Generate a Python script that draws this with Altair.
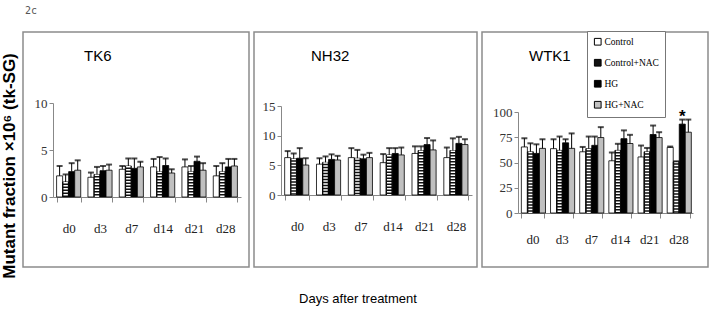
import altair as alt
import pandas as pd

days = ["d0", "d3", "d7", "d14", "d21", "d28"]
series = ["Control", "Control+NAC", "HG", "HG+NAC"]

# TK6 (mean, upper end of error bar)
tk6_control = [2.25, 2.1, 2.95, 3.2, 3.2, 2.25]
tk6_control_nac = [1.6, 2.4, 3.3, 2.7, 2.7, 2.7]
tk6_hg = [2.7, 2.8, 3.05, 3.35, 3.8, 3.2]
tk6_hg_nac = [2.85, 2.85, 3.2, 2.55, 2.85, 3.3]
tk6_control_up = [3.3, 2.6, 3.3, 4.05, 4.0, 3.3]
tk6_control_nac_up = [2.4, 3.2, 4.1, 4.25, 3.3, 3.6]
tk6_hg_up = [3.6, 3.3, 4.1, 4.1, 4.3, 4.05]
tk6_hg_nac_up = [3.9, 3.45, 3.75, 2.95, 3.6, 4.05]

# NH32
nh32_control = [6.3, 5.2, 6.3, 5.45, 7.0, 6.3]
nh32_control_nac = [6.1, 5.5, 6.2, 6.75, 7.5, 7.5]
nh32_hg = [6.2, 6.0, 6.1, 7.0, 8.5, 8.7]
nh32_hg_nac = [5.05, 5.9, 6.3, 6.75, 7.6, 8.5]
nh32_control_up = [7.4, 6.2, 7.9, 6.9, 8.2, 8.0]
nh32_control_nac_up = [7.0, 6.5, 7.6, 7.9, 8.2, 9.55]
nh32_hg_up = [7.9, 6.85, 6.8, 7.9, 9.6, 9.8]
nh32_hg_nac_up = [6.2, 6.6, 7.1, 8.0, 9.2, 9.4]

# WTK1
wtk1_control = [65.4, 63.7, 60.6, 51.7, 55.5, 65.0]
wtk1_control_nac = [60.6, 62.0, 63.7, 62.0, 60.6, 50.7]
wtk1_hg = [59.0, 69.5, 67.0, 73.6, 77.7, 88.0]
wtk1_hg_nac = [64.0, 64.0, 74.7, 68.8, 74.7, 80.0]
wtk1_control_up = [74.0, 73.0, 65.4, 60.0, 66.8, 65.8]
wtk1_control_nac_up = [69.0, 75.7, 75.7, 68.5, 64.4, 51.2]
wtk1_hg_up = [68.0, 73.0, 75.7, 81.8, 86.6, 92.5]
wtk1_hg_nac_up = [73.0, 78.8, 85.0, 77.4, 80.0, 92.5]

star_day = ["d28"]
star_series = ["HG"]
star_value = [92.5]

fills = ["white", "#111111", "black", "#c0c0c0"]
H = 235
SERIF = "Liberation Serif"
SANS = "Liberation Sans"


def frame(means, ups):
    rows = []
    for s, m, u in zip(series, means, ups):
        for d, v, t in zip(days, m, u):
            rows.append({"day": d, "series": s, "value": v, "upper": t})
    return pd.DataFrame(rows)


def panel(df, title, ymax, yticks, xr, yr, title_x, label_pad, width, stripe_w, legend=None, extra=None):
    x = alt.X("day:N", sort=days,
              scale=alt.Scale(range=xr, paddingInner=0.23, paddingOuter=0.115),
              axis=alt.Axis(title=None, labelAngle=0, offset=-(H - yr[0]), tickBand="extent",
                            tickSize=5, labelPadding=label_pad, labelFont=SERIF, labelFontSize=13,
                            labelColor="#222", domainColor="#888", tickColor="#888"))
    xo = alt.XOffset("series:N", sort=series, scale=alt.Scale(paddingInner=0, paddingOuter=0))
    y = alt.Y("value:Q", scale=alt.Scale(domain=[0, ymax], range=list(yr), nice=False, zero=True),
              axis=alt.Axis(title=None, values=yticks, offset=-xr[0], grid=False, tickSize=4,
                            labelPadding=2, labelFont=SERIF, labelFontSize=13, labelColor="#333",
                            domainColor="#888", tickColor="#888"))
    fill = alt.Fill("series:N", sort=series, scale=alt.Scale(domain=series, range=fills),
                    legend=legend)
    base = alt.Chart(df)
    bars = base.mark_bar(stroke="black", strokeWidth=0.8).encode(x=x, xOffset=xo, y=y, fill=fill)
    stripes = base.transform_filter(alt.datum.series == "Control+NAC").mark_rule(
        color="white", strokeWidth=stripe_w, strokeDash=[1.5, 1.5]
    ).encode(x=x, xOffset=xo, y=alt.Y("value:Q"), y2=alt.datum(0))
    err = base.mark_rule(color="black", strokeWidth=1).encode(
        x=x, xOffset=xo, y=alt.Y("value:Q"), y2="upper:Q")
    caps = base.mark_tick(color="black", thickness=2, size=6).encode(
        x=x, xOffset=xo, y=alt.Y("upper:Q"))
    ttl = alt.Chart(pd.DataFrame({"t": [title]})).mark_text(
        font=SANS, fontSize=15, align="left", baseline="middle", color="black"
    ).encode(text="t:N", x=alt.value(title_x), y=alt.value(24))
    layers = [bars, stripes, err, caps, ttl]
    if extra:
        layers += extra
    return alt.layer(*layers).properties(width=width, height=H)


df_tk6 = frame([tk6_control, tk6_control_nac, tk6_hg, tk6_hg_nac],
               [tk6_control_up, tk6_control_nac_up, tk6_hg_up, tk6_hg_nac_up])
df_nh32 = frame([nh32_control, nh32_control_nac, nh32_hg, nh32_hg_nac],
                [nh32_control_up, nh32_control_nac_up, nh32_hg_up, nh32_hg_nac_up])
df_wtk1 = frame([wtk1_control, wtk1_control_nac, wtk1_hg, wtk1_hg_nac],
                [wtk1_control_up, wtk1_control_nac_up, wtk1_hg_up, wtk1_hg_nac_up])

# extra text for panel 1: y label, figure tag, anchor
anchor = alt.Chart(pd.DataFrame({"a": [0]})).mark_rule(strokeOpacity=0, strokeWidth=0.5).encode(
    x=alt.value(-22), y=alt.value(-31), y2=alt.value(-29))
ylab = alt.Chart(pd.DataFrame({"t": ["Mutant fraction \u00d710\u2076 (tk-SG)"]})).mark_text(
    font=SANS, fontSize=17, fontWeight="bold", angle=270, align="center", baseline="middle",
    color="black").encode(text="t:N", x=alt.value(-13), y=alt.value(134))
tag = alt.Chart(pd.DataFrame({"t": ["2c"]})).mark_text(
    font="DejaVu Sans Mono", fontSize=10, align="left", baseline="middle", color="#555"
).encode(text="t:N", x=alt.value(2), y=alt.value(-21))

xlab = alt.Chart(pd.DataFrame({"t": ["Days after treatment"]})).mark_text(
    font=SANS, fontSize=13, align="center", baseline="middle", color="black"
).encode(text="t:N", x=alt.value(104), y=alt.value(267))

star_df = pd.DataFrame({"day": star_day, "series": star_series, "upper": star_value, "s": ["*"]})

p1 = panel(df_tk6, "TK6", 10, [0, 5, 10], [30, 218], [165, 71], 61, 20, 226, 4.4,
           extra=[anchor, ylab, tag])
p2 = panel(df_nh32, "NH32", 15, [0, 5, 10, 15], [27, 218], [163, 74], 57, 20, 223, 4.4,
           extra=[xlab])

legend3 = alt.Legend(title=None, orient="none", legendX=105, legendY=-1, strokeColor="#777",
                     fillColor="white", padding=6, symbolType="square", symbolSize=45,
                     symbolStrokeColor="black", symbolStrokeWidth=1, labelFont=SERIF,
                     labelFontSize=9.5, rowPadding=9, labelOffset=2, symbolOffset=0)

p3_x = alt.X("day:N", sort=days)
star = alt.Chart(star_df).mark_text(fontSize=17, fontWeight="bold", baseline="bottom", dy=6,
                                    color="black", font=SANS).encode(
    x=p3_x, xOffset=alt.XOffset("series:N", sort=series), y=alt.Y("upper:Q"), text="s:N")
p3 = panel(df_wtk1, "WTK1", 100, [0, 25, 50, 75, 100], [36, 211], [181, 80], 47, 15, 226, 4.0,
           legend=legend3, extra=[star])

chart = alt.hconcat(p1, p2, p3, spacing=5, bounds="flush").resolve_scale(
    fill="independent").properties(padding=0).configure_view(stroke="#8c8c8c", strokeWidth=1.5)

chart.save("out.html", embed_options={"renderer": "svg", "actions": False})
